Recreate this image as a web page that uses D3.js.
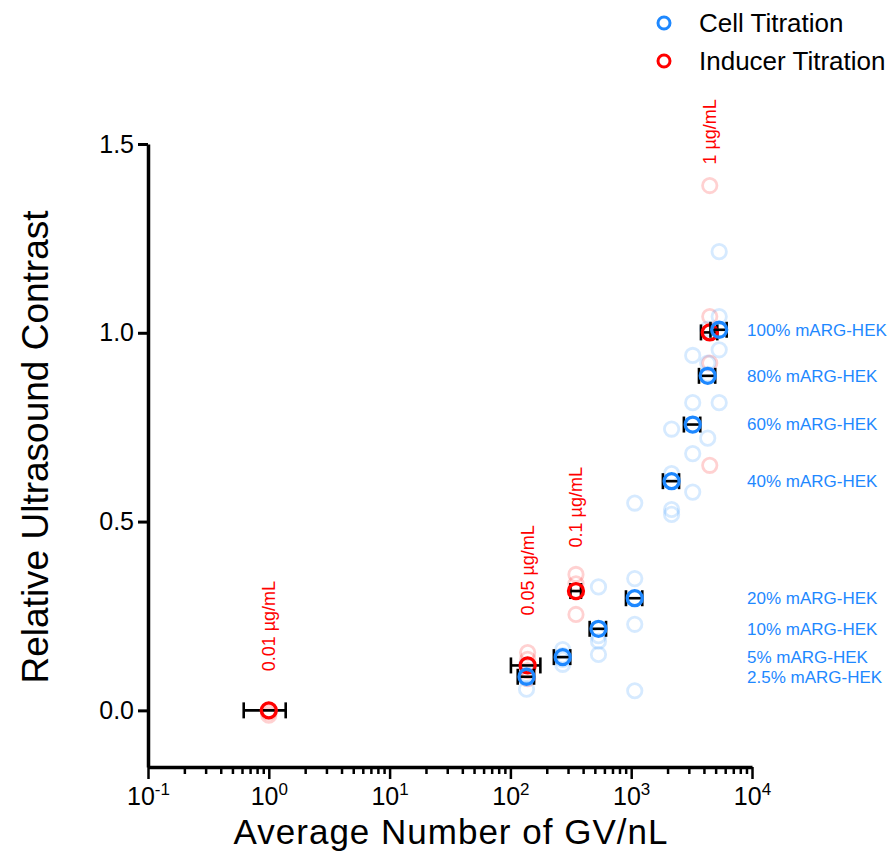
<!DOCTYPE html>
<html>
<head>
<meta charset="utf-8">
<script src="https://cdn.jsdelivr.net/npm/d3@7"></script>
<style>
  body { margin: 0; background: #fff; }
  svg { font-family: "Liberation Sans", Arial, sans-serif; }
</style>
</head>
<body>
<svg id="chart" width="890" height="851"></svg>
<script>
// cell titration groups (blue)
const cellLabels = ["100% mARG-HEK", "80% mARG-HEK", "60% mARG-HEK", "40% mARG-HEK",
    "20% mARG-HEK", "10% mARG-HEK", "5% mARG-HEK", "2.5% mARG-HEK"];
const cellX = [5350, 4300, 3230, 2160, 1070, 536, 271, 136];
const cellXErr = [820, 660, 500, 330, 165, 83, 42, 21];
const cellY = [1.008, 0.886, 0.757, 0.607, 0.297, 0.216, 0.141, 0.089];
const cellReps = [
    [1.215, 1.043, 0.955, 0.815],
    [1.01, 0.92, 0.89, 0.721],
    [0.940, 0.815, 0.680, 0.578],
    [0.745, 0.627, 0.532, 0.519],
    [0.549, 0.349, 0.228, 0.052],
    [0.327, 0.198, 0.183, 0.148],
    [0.161, 0.145, 0.135, 0.122],
    [0.12, 0.095, 0.085, 0.056]
];

// inducer titration groups (red)
const inducerLabels = ["1 \u00b5g/mL", "0.1 \u00b5g/mL", "0.05 \u00b5g/mL", "0.01 \u00b5g/mL"];
const inducerX = [4470, 349, 139, 1.0];
const inducerXErr = [690, 35, 38, 0.38];
const inducerY = [1.001, 0.316, 0.119, 0.0];
const inducerReps = [
    [1.390, 1.043, 0.920, 0.649],
    [0.360, 0.335, 0.254],
    [0.153, 0.135, 0.105, 0.084],
    [0.0, -0.005, -0.013]
];

const xTicks = [0.1, 1, 10, 100, 1000, 10000];
const yTicks = [0, 0.5, 1.0, 1.5];

const BLUE = "#1e88ff";
const RED = "#ff0000";

const svg = d3.select("#chart");

const x = d3.scaleLog().domain([0.1, 1e4]).range([148, 752]);
const y = d3.scaleLinear().domain([-0.15, 1.5]).range([767, 144]);

// axes
const xMinor = [];
for (let e = -1; e < 4; e++) {
    for (let m = 2; m <= 9; m++) xMinor.push(m * Math.pow(10, e));
}

svg.append("g")
    .attr("transform", "translate(0,767)")
    .call(d3.axisBottom(x).tickValues(xMinor).tickSize(7).tickSizeOuter(0).tickFormat(""))
    .call(g => g.select(".domain").remove())
    .call(g => g.selectAll("line").attr("stroke-width", 2.5));

const xAxis = svg.append("g")
    .attr("transform", "translate(0,767)")
    .call(d3.axisBottom(x).tickValues(xTicks).tickSize(12).tickSizeOuter(0).tickPadding(8));
xAxis.select(".domain").attr("stroke-width", 3.5);
xAxis.selectAll("line").attr("stroke-width", 2.5);
xAxis.selectAll("text")
    .attr("font-size", 25)
    .attr("fill", "#000")
    .text("")
    .each(function (d) {
        const t = d3.select(this);
        t.append("tspan").text("10");
        t.append("tspan")
            .attr("font-size", 17)
            .attr("dy", "-0.6em")
            .text(Math.round(Math.log10(d)));
    });

const yAxis = svg.append("g")
    .attr("transform", "translate(148,0)")
    .call(d3.axisLeft(y).tickValues(yTicks).tickSize(10).tickSizeOuter(0)
        .tickPadding(4).tickFormat(d3.format(".1f")));
yAxis.select(".domain").attr("stroke-width", 3.5);
yAxis.selectAll("line").attr("stroke-width", 3);
yAxis.selectAll("text").attr("font-size", 25).attr("fill", "#000");

// axis titles
svg.append("text")
    .attr("transform", "translate(48,447) rotate(-90)")
    .attr("text-anchor", "middle")
    .attr("font-size", 37)
    .text("Relative Ultrasound Contrast");

svg.append("text")
    .attr("x", 451)
    .attr("y", 843.5)
    .attr("text-anchor", "middle")
    .attr("font-size", 35)
    .attr("letter-spacing", 1)
    .text("Average Number of GV/nL");

// replicate points (faded)
const plot = svg.append("g");

function drawReps(xs, reps, color) {
    xs.forEach(function (xv, i) {
        plot.selectAll(null)
            .data(reps[i])
            .enter().append("circle")
            .attr("cx", x(xv))
            .attr("cy", d => y(d))
            .attr("r", 7.2)
            .attr("fill", "none")
            .attr("stroke", color)
            .attr("stroke-opacity", 0.18)
            .attr("stroke-width", 2.8);
    });
}
drawReps(inducerX, inducerReps, RED);
drawReps(cellX, cellReps, BLUE);

const CAP = 8;

// horizontal error bars with caps
function drawErrors(xs, xErr, ys) {
    const g = plot.append("g").attr("stroke", "#000").attr("stroke-width", 2.6);
    xs.forEach(function (xv, i) {
        const cy = y(ys[i]);
        const x0 = x(xv - xErr[i]), x1 = x(xv + xErr[i]);
        g.append("line").attr("x1", x0).attr("x2", x1).attr("y1", cy).attr("y2", cy);
        g.append("line").attr("x1", x0).attr("x2", x0).attr("y1", cy - CAP).attr("y2", cy + CAP);
        g.append("line").attr("x1", x1).attr("x2", x1).attr("y1", cy - CAP).attr("y2", cy + CAP);
    });
}

function drawMeans(xs, ys, color) {
    plot.selectAll(null)
        .data(xs)
        .enter().append("circle")
        .attr("cx", d => x(d))
        .attr("cy", (d, i) => y(ys[i]))
        .attr("r", 7.5)
        .attr("fill", "none")
        .attr("stroke", color)
        .attr("stroke-width", 3.3);
}

drawErrors(inducerX, inducerXErr, inducerY);
drawMeans(inducerX, inducerY, RED);
drawErrors(cellX, cellXErr, cellY);
drawMeans(cellX, cellY, BLUE);

// group labels
svg.append("g")
    .selectAll("text")
    .data(cellLabels)
    .enter().append("text")
    .attr("x", 747)
    .attr("y", (d, i) => y(cellY[i]))
    .attr("dy", "0.35em")
    .attr("font-size", 17)
    .attr("fill", BLUE)
    .text(d => d);

const inducerLabelGap = [21, 27, 37, 39];
svg.append("g")
    .selectAll("text")
    .data(inducerLabels)
    .enter().append("text")
    .attr("transform", (d, i) => "translate(" + x(inducerX[i]) + ","
        + (y(d3.max(inducerReps[i])) - inducerLabelGap[i]) + ") rotate(-90)")
    .attr("dy", "0.35em")
    .attr("font-size", 18)
    .attr("fill", RED)
    .text(d => d);

// legend
const legendKeys = ["Cell Titration", "Inducer Titration"];
const legendColors = [BLUE, RED];
const legend = svg.append("g")
    .selectAll("g")
    .data(legendKeys)
    .enter().append("g")
    .attr("transform", (d, i) => "translate(664," + (23 + i * 38) + ")");

legend.append("circle")
    .attr("r", 6)
    .attr("fill", "none")
    .attr("stroke", (d, i) => legendColors[i])
    .attr("stroke-width", 3);

legend.append("text")
    .attr("x", 35)
    .attr("dy", "0.35em")
    .attr("font-size", 26)
    .text(d => d);
</script>
</body>
</html>
